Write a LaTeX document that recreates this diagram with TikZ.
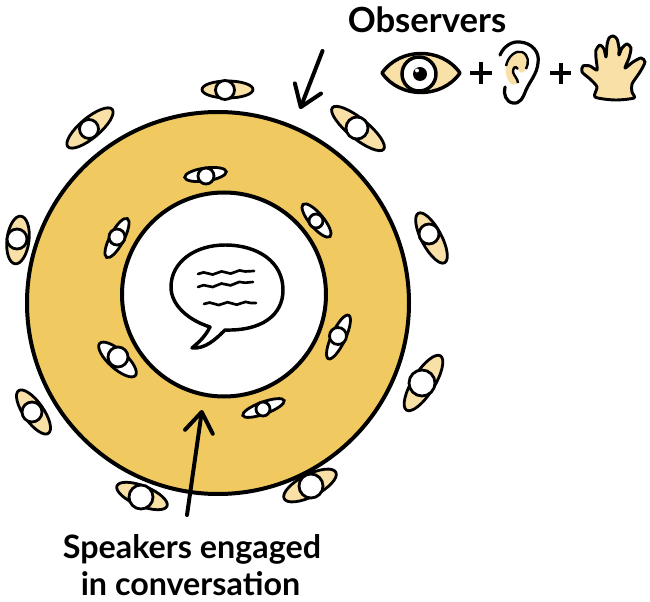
\documentclass[tikz,border=0pt]{standalone}
\usepackage{fontspec}
\setmainfont{Lato}
\usetikzlibrary{arrows.meta,decorations.pathmorphing}
\definecolor{ringfill}{RGB}{240,201,96}
\definecolor{skinfill}{RGB}{248,224,166}
\tikzset{
  ring/.style={circle,draw,line width=3pt,inner sep=0pt},
  body/.style={draw,line width=2.1pt},
  head/.style={draw,fill=white,line width=2.1pt},
  pointer/.style={line width=3pt,line cap=round,-{Straight Barb[length=15pt,width=21pt,line width=3pt,round]}},
  scribble/.style={line width=2pt,line cap=round,decorate,decoration={snake,amplitude=1pt,segment length=13.5pt}},
  caption/.style={inner sep=0pt,font=\fontsize{24.2}{27}\selectfont\bfseries}
}
\begin{document}
\begin{tikzpicture}[x=0.75pt,y=0.75pt,yscale=-1,xscale=1]
\useasboundingbox (0,0) rectangle (650,602);
%Rings
\node [ring,fill=ringfill,minimum size=286.5pt] (outerring) at (218,303) {};
\node [ring,fill=white,minimum size=153pt] (innerring) at (224,294.5) {};
%Observers
\foreach \cx/\cy/\ang/\ra/\rb/\hx/\hy/\hr in {
  227.5/89.5/0/25.5/8.5/225/90/9.5,
  90/128/-40/29/10/89/129/9.5,
  18/240/-83/24/11/17/239/10,
  358/128.5/39/33/10/357/128/11,
  431.5/238/62/28/10/429/234/10,
  423.5/383/-58/32/11/422/383/13,
  310/485.5/-27/29/11/311/486/12,
  142/496/22/27/10/141/497/12,
  33.5/412/55/26/10/32/412/10}
{
  \draw [body,fill=skinfill,shift={(\cx,\cy)},rotate=\ang] (0,0) ellipse ({\ra} and {\rb});
  \draw [head] (\hx,\hy) circle (\hr);
}
%Speakers
\foreach \cx/\cy/\ang/\ra/\rb/\hx/\hy/\hr in {
  205.5/174.5/-8/21/6.5/206/176/8,
  316.5/220.5/50/21/7/316/221/7,
  338.5/337/-65/24/7/338/336/8.5,
  263.5/408/-20/22/6/263/409/7,
  117.5/359.5/42/24/9/118/357/10,
  117/238/-62/22/7/117/237/8}
{
  \draw [body,fill=white,shift={(\cx,\cy)},rotate=\ang] (0,0) ellipse ({\ra} and {\rb});
  \draw [head] (\hx,\hy) circle (\hr);
}
%Speech bubble
\draw [line width=2.6pt,line join=round,fill=white] (225,330) .. controls (262,331) and (283,315) .. (283,290) .. controls (283,262) and (258,245) .. (225,245) .. controls (195,245) and (171,262) .. (171,287) .. controls (171,305) and (188,320) .. (210,327) .. controls (205,337) and (198,343) .. (192,348) .. controls (205,349) and (215,340) .. (225,330) -- cycle;
\draw [scribble] (198,274) -- (254,271);
\draw [scribble] (198,287) -- (253,282);
\draw [scribble] (204,304) -- (256,303);
%Arrows
\coordinate (obstail) at (322.5,51);
\coordinate (obstip) at (300,109);
\coordinate (spktail) at (187,515);
\coordinate (spktip) at (202,410);
\draw [pointer] (obstail) -- (obstip);
\draw [pointer] (spktail) -- (spktip);
%Eye
\draw [line width=2.6pt,line join=round,fill=skinfill] (382,73) .. controls (400,47) and (442,47) .. (460,73) .. controls (442,99) and (400,99) .. (382,73) -- cycle;
\draw [line width=2.6pt,fill=white] (419,74) circle (17);
\fill (420,74) circle (7);
\fill [white] (417,70.5) circle (2);
%Plus signs
\draw [line width=3pt] (470,73) -- (492,73);
\draw [line width=3pt] (481,62) -- (481,84);
\draw [line width=3pt] (550,73) -- (571,73);
\draw [line width=3pt] (560.5,63) -- (560.5,84);
%Ear
\draw [line width=2.4pt,line cap=round] (500,55) .. controls (504,46) and (512,41) .. (520,42) .. controls (532,43) and (540,52) .. (538,63) .. controls (537,74) and (530,81) .. (526,90) .. controls (523,98) and (520,104) .. (513,103) .. controls (506,102) and (503,94) .. (505,87);
\fill [skinfill] (506,66) .. controls (508,56) and (516,50) .. (522,52) .. controls (529,55) and (529,63) .. (526,69) .. controls (523,74) and (520,74) .. (518,69) .. controls (515,65) and (513,68) .. (513,72) .. controls (514,76) and (518,79) .. (518,83) .. controls (514,86) and (510,85) .. (508,80) .. controls (506,75) and (505,71) .. (506,66) -- cycle;
\draw [line width=1.8pt] (506,66) .. controls (508,56) and (516,50) .. (522,52) .. controls (529,55) and (529,63) .. (526,69);
\draw [line width=1.8pt] (518,69) .. controls (515,65) and (513,68) .. (513,72) .. controls (514,76) and (518,79) .. (518,83);
%Hand
\draw [line width=2.2pt,line join=round,fill=skinfill] plot [smooth cycle,tension=0.45] coordinates {(595,97) (597,87) (590,79) (582,72) (583,66) (590,66) (597,70) (596,58) (596,50) (600,45) (604,49) (606,57) (607,45) (609,38) (613,36) (617,39) (619,48) (619,55) (622,48) (627,44) (631,48) (629,58) (625,68) (633,62) (641,58) (645,62) (640,72) (632,84) (632,92) (634,98) (615,100)};
%Labels
\draw (427,20) node (observers) [caption,font=\fontsize{26}{28}\selectfont\bfseries] {Observers};
\draw (192,549) node (speakers) [caption] {Speakers engaged};
\draw (190.5,584) node (conversation) [caption] {in conversation};
\end{tikzpicture}
\end{document}
